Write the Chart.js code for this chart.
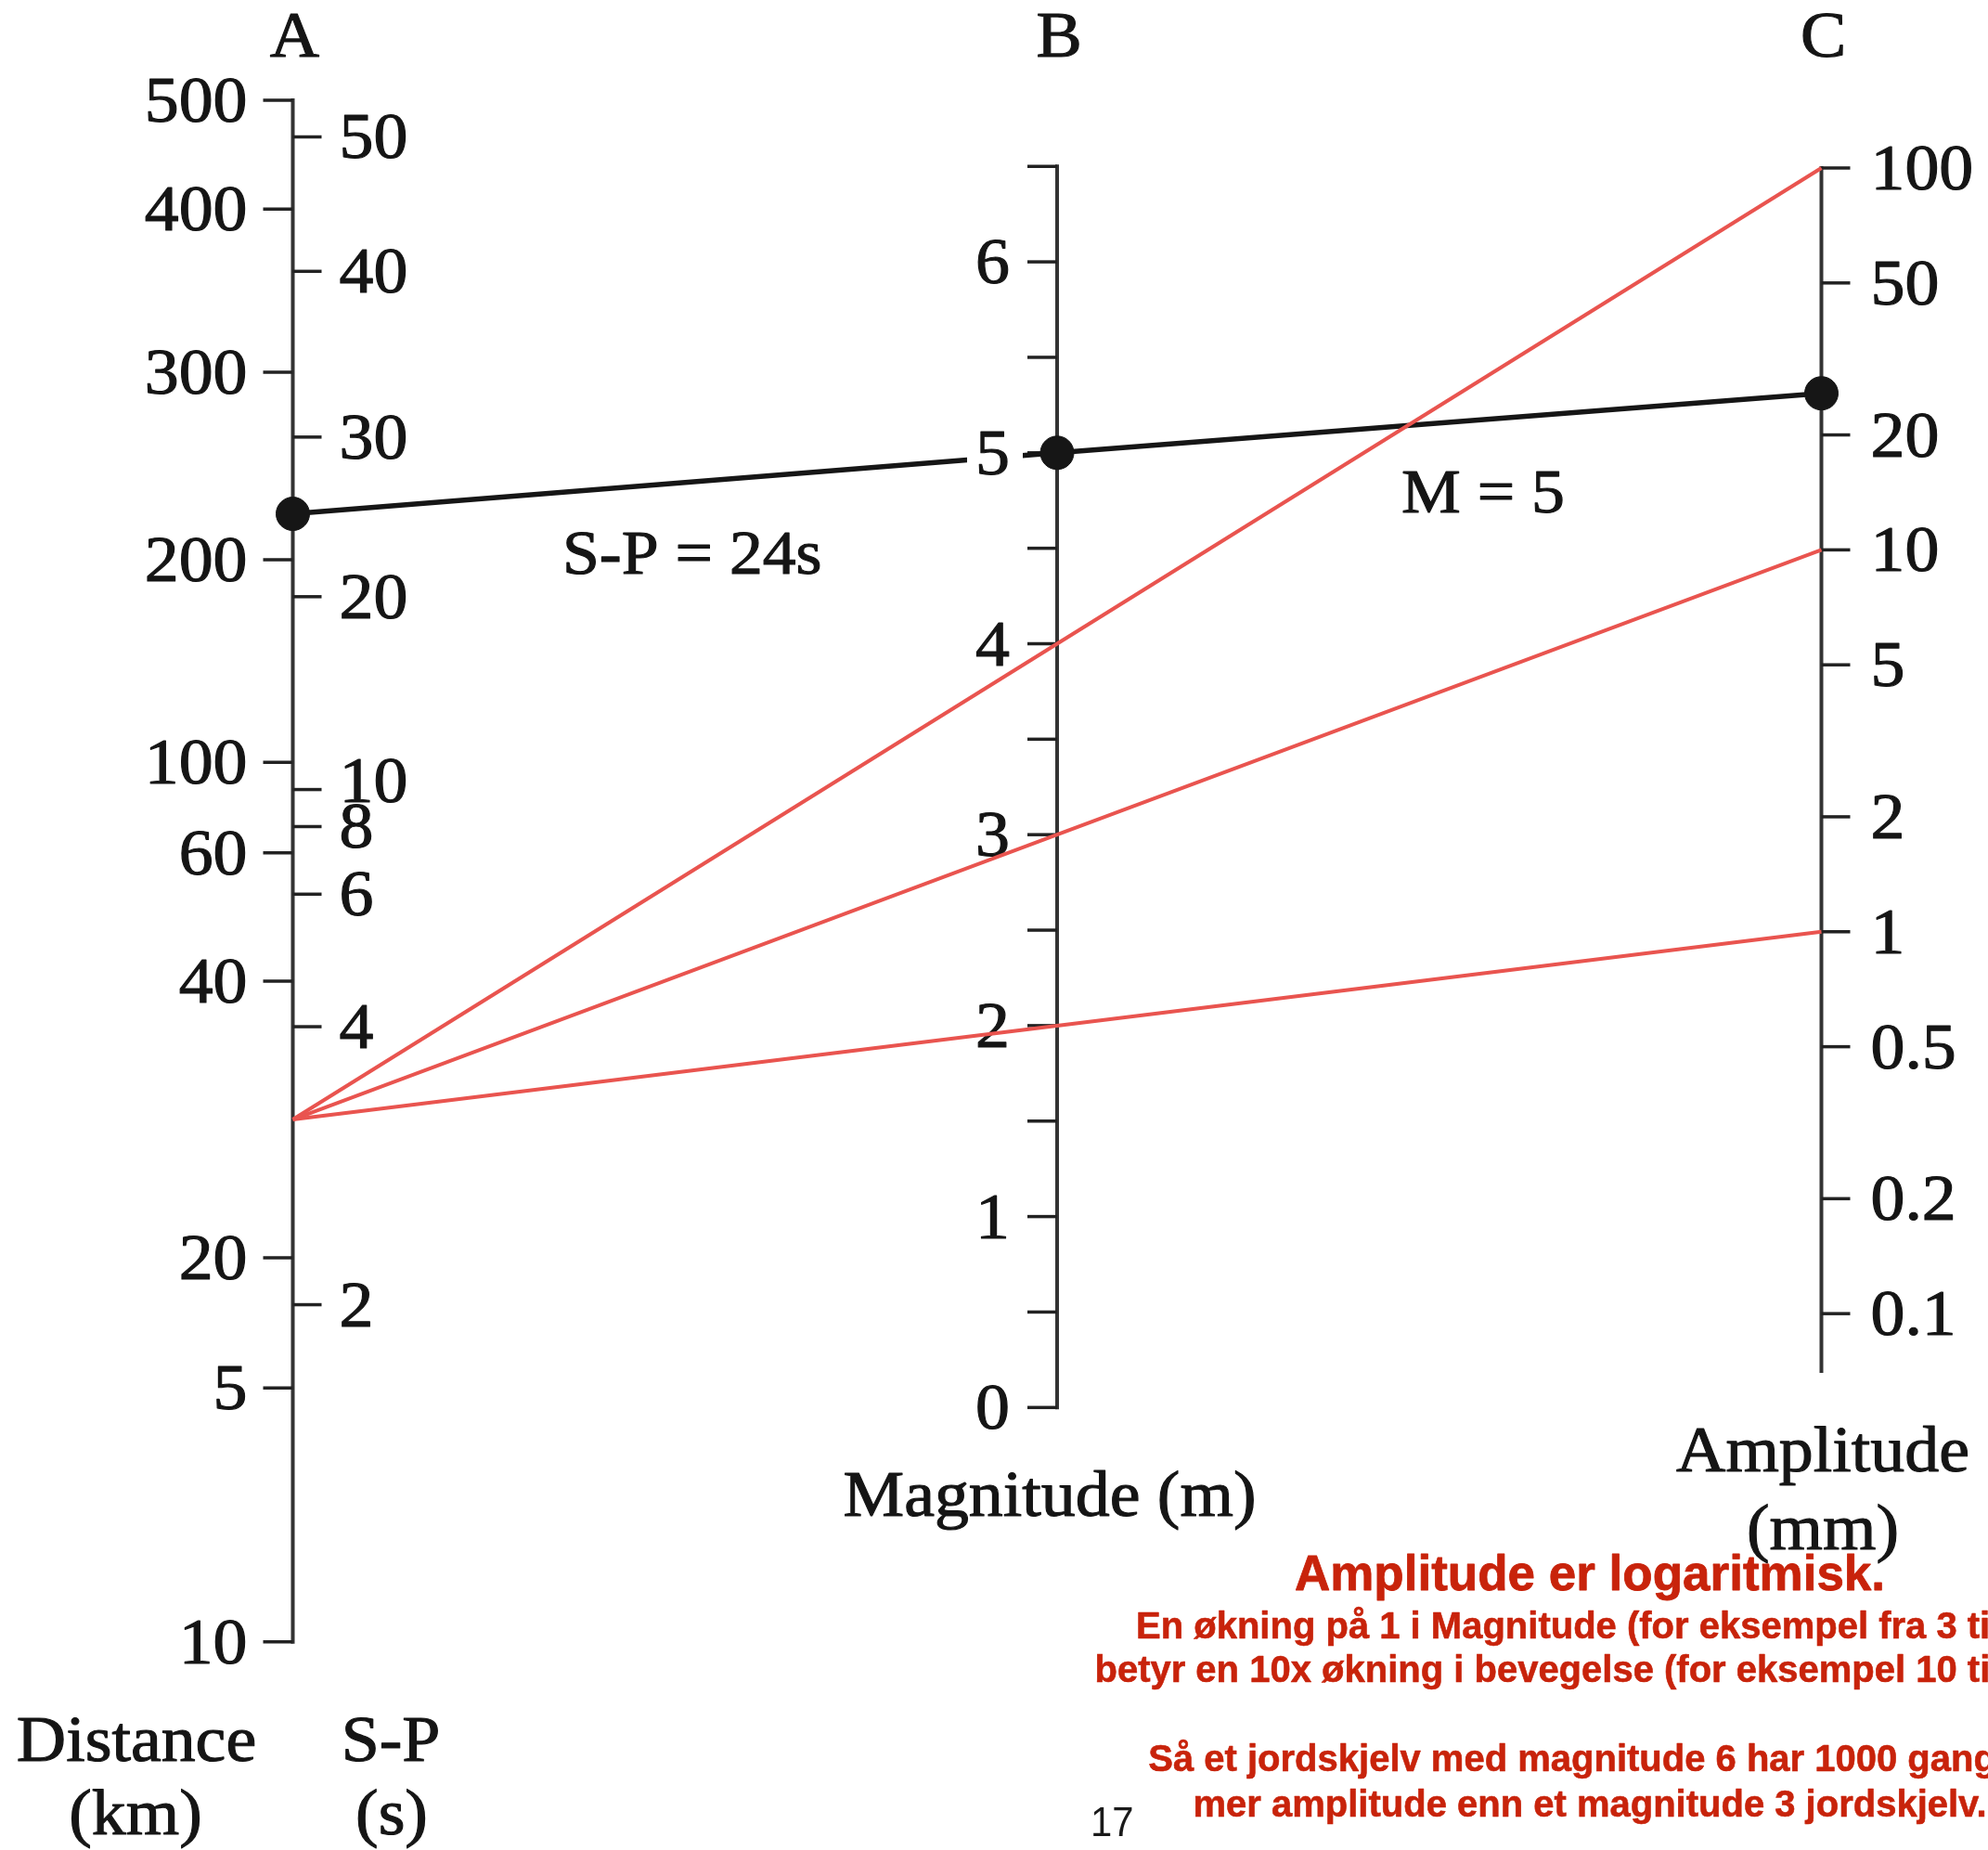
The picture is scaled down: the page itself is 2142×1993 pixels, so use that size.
<!DOCTYPE html>
<html>
<head>
<meta charset="utf-8">
<script src="https://cdn.jsdelivr.net/npm/chart.js@4.4.1/dist/chart.umd.min.js"></script>
<style>
  html, body { margin: 0; padding: 0; background: #ffffff; }
  #wrap { position: relative; width: 2142px; height: 1993px; }
</style>
</head>
<body>
<div id="wrap"><canvas id="c"></canvas></div>
<script>
// ---------- DATA ----------
// Axis A: distance (km) and S-P time (s). Level = distance correction on the A scale (M - log10 amplitude)
const distanceTicks  = [500, 400, 300, 200, 100, 60, 40, 20, 5, 10];
const distanceLevels = [4.669, 4.384, 3.957, 3.466, 2.935, 2.698, 2.362, 1.638, 1.297, 0.632];
const spTicks  = [50, 40, 30, 20, 10, 8, 6, 4, 2];
const spLevels = [4.573, 4.221, 3.787, 3.369, 2.864, 2.767, 2.590, 2.243, 1.515];

// Axis B: magnitude
const magnitudeTicks = [0, 1, 2, 3, 4, 5, 6];
const magnitudeMinorTicks = [0.5, 1.5, 2.5, 3.5, 4.5, 5.5, 6.5];

// Axis C: amplitude (mm), logarithmic
const amplitudeTicks = [100, 50, 20, 10, 5, 2, 1, 0.5, 0.2, 0.1];
const amplitudeAxisEnd = 0.07;

// Worked example (black line): S-P = 24 s -> M = 5
const exampleLevelA = 3.586;
const exampleMagnitude = 5;
const exampleAmplitude = 25.7;

// Red lines: same distance, amplitudes 100, 10 and 1 mm -> M = 4, 3, 2
const redLevelA = 2.0;
const redAmplitudes = [100, 10, 1];
const redMagnitudes = [4, 3, 2];

// Texts
const axisLetters = ['A', 'B', 'C'];
const noteLines = [
  'En økning på 1 i Magnitude (for eksempel fra 3 til 4)',
  'betyr en 10x økning i bevegelse (for eksempel 10 til 100)',
  '',
  'Så et jordskjelv med magnitude 6 har 1000 ganger',
  'mer amplitude enn et magnitude 3 jordskjelv.'
];

// ---------- scale calibration ----------
const M_MIN = 0, M_MAX = 6.5;
const AMP_MIN = 0.05678;
const AMP_MAX = AMP_MIN * Math.pow(10, (M_MAX - M_MIN) / 2);
const A_MIN = M_MIN - Math.log10(AMP_MIN);
const A_MAX = M_MAX - Math.log10(AMP_MAX);

// ---------- styles ----------
const SERIF = '"Liberation Serif", "Times New Roman", serif';
const SANS = '"Liberation Sans", Arial, Helvetica, sans-serif';
const SERIF_SIZE = 69;
const SERIF_SX = 1.07;
const DIGIT_HALF = 23;
const AXIS_COLOR = '#333333';
const TICK_COLOR = '#222222';
const INK = '#151515';
const RED_LINE = '#e9544f';
const RED_TEXT = '#c8230b';

function seg(ctx, x1, y1, x2, y2, w, color) {
  ctx.save();
  ctx.strokeStyle = color;
  ctx.lineWidth = w;
  ctx.lineCap = 'butt';
  ctx.beginPath();
  ctx.moveTo(x1, y1);
  ctx.lineTo(x2, y2);
  ctx.stroke();
  ctx.restore();
}
function txt(ctx, s, x, y, align, size, opts) {
  opts = opts || {};
  ctx.save();
  ctx.font = (opts.weight ? opts.weight + ' ' : '') + size + 'px ' + (opts.family || SERIF);
  ctx.fillStyle = opts.color || INK;
  ctx.strokeStyle = opts.color || INK;
  ctx.textBaseline = 'alphabetic';
  ctx.textAlign = align;
  ctx.translate(x, y);
  ctx.scale(opts.sx === undefined ? SERIF_SX : opts.sx, 1);
  ctx.fillText(s, 0, 0);
  const bold = opts.stroke === undefined ? 1.1 : opts.stroke;
  if (bold > 0) {
    ctx.lineWidth = bold;
    ctx.lineJoin = 'round';
    ctx.strokeText(s, 0, 0);
  }
  ctx.restore();
}

const spNudge = { 10: -10 };

const nomogram = {
  id: 'nomogram',
  beforeDatasetsDraw(chart) {
    const ctx = chart.ctx;
    const { x, yA, yB, yC } = chart.scales;
    const xA = x.getPixelForValue(0), xB = x.getPixelForValue(1), xC = x.getPixelForValue(2);

    // ---- Axis A ----
    const aTop = yA.getPixelForValue(Math.max(...distanceLevels));
    const aBot = yA.getPixelForValue(Math.min(...distanceLevels));
    seg(ctx, xA, aTop - 2, xA, aBot + 2, 4, AXIS_COLOR);
    distanceTicks.forEach((t, i) => {
      const y = yA.getPixelForValue(distanceLevels[i]);
      seg(ctx, xA - 32, y, xA, y, 3.5, TICK_COLOR);
      txt(ctx, String(t), xA - 49, y + DIGIT_HALF, 'right', SERIF_SIZE);
    });
    spTicks.forEach((t, i) => {
      const y = yA.getPixelForValue(spLevels[i]);
      seg(ctx, xA, y, xA + 31, y, 3.5, TICK_COLOR);
      txt(ctx, String(t), xA + 50, y + DIGIT_HALF + (spNudge[t] || 0), 'left', SERIF_SIZE);
    });

    // ---- Axis B ----
    const bTop = yB.getPixelForValue(Math.max(...magnitudeMinorTicks));
    const bBot = yB.getPixelForValue(Math.min(...magnitudeTicks));
    seg(ctx, xB, bTop - 2, xB, bBot + 2, 4, AXIS_COLOR);
    magnitudeMinorTicks.forEach(t => {
      const y = yB.getPixelForValue(t);
      seg(ctx, xB - 32, y, xB, y, 3.5, TICK_COLOR);
    });
    magnitudeTicks.forEach(t => {
      const y = yB.getPixelForValue(t);
      seg(ctx, xB - 32, y, xB, y, 3.5, TICK_COLOR);
      txt(ctx, String(t), xB - 51, y + DIGIT_HALF, 'right', SERIF_SIZE);
    });

    // ---- Axis C ----
    const cTop = yC.getPixelForValue(Math.max(...amplitudeTicks));
    const cBot = yC.getPixelForValue(amplitudeAxisEnd);
    seg(ctx, xC, cTop - 2, xC, cBot, 4, AXIS_COLOR);
    amplitudeTicks.forEach(t => {
      const y = yC.getPixelForValue(t);
      seg(ctx, xC, y, xC + 31, y, 3.5, TICK_COLOR);
      txt(ctx, String(t), xC + 53, y + DIGIT_HALF, 'left', SERIF_SIZE);
    });
  },
  afterDatasetsDraw(chart) {
    const ctx = chart.ctx;
    const { x, yB } = chart.scales;
    const xB = x.getPixelForValue(1);
    // label "5" sits on a white patch over the black line
    const y5 = yB.getPixelForValue(exampleMagnitude);
    ctx.save();
    ctx.fillStyle = '#ffffff';
    ctx.fillRect(xB - 97, y5 - 27, 60, 54);
    ctx.restore();
    txt(ctx, String(exampleMagnitude), xB - 51, y5 + DIGIT_HALF, 'right', SERIF_SIZE);
  },
  afterDraw(chart) {
    const ctx = chart.ctx;
    const { x } = chart.scales;
    axisLetters.forEach((l, i) => {
      txt(ctx, l, x.getPixelForValue(i) + 2, 61, 'center', SERIF_SIZE);
    });
    // axis titles
    txt(ctx, 'Distance', 147, 1897, 'center', SERIF_SIZE);
    txt(ctx, '(km)', 146, 1976, 'center', SERIF_SIZE);
    txt(ctx, 'S-P', 421, 1897, 'center', SERIF_SIZE);
    txt(ctx, '(s)', 422, 1976, 'center', SERIF_SIZE);
    txt(ctx, 'Magnitude (m)', 1131, 1633, 'center', SERIF_SIZE);
    txt(ctx, 'Amplitude', 1964, 1585, 'center', SERIF_SIZE);
    txt(ctx, '(mm)', 1964, 1669, 'center', SERIF_SIZE);
    // annotations
    txt(ctx, 'S-P = 24s', 606, 618, 'left', 67);
    txt(ctx, 'M = ' + exampleMagnitude, 1510, 552, 'left', 67);
    // notes (red)
    txt(ctx, 'Amplitude er logaritmisk.', 1713, 1713, 'center', 53,
        { family: SANS, weight: 'bold', color: RED_TEXT, sx: 1, stroke: 0.8 });
    const noteBaselines = [1765, 1812, 0, 1908, 1957];
    noteLines.forEach((s, i) => {
      if (!s) return;
      txt(ctx, s, 1713, noteBaselines[i], 'center', 40,
          { family: SANS, weight: 'bold', color: RED_TEXT, sx: 1, stroke: 0.6 });
    });
    txt(ctx, '17', 1175, 1978, 'left', 44, { family: SANS, color: '#1a1a1a', sx: 0.95, stroke: 0 });
  }
};

const chart = new Chart(document.getElementById('c'), {
  type: 'line',
  data: { datasets: [] },
  options: {
    responsive: true,
    maintainAspectRatio: false,
    animation: false,
    events: [],
    layout: { padding: { left: 315.5, right: 179.5, top: 179.25, bottom: 476.7 } },
    plugins: { legend: { display: false }, tooltip: { enabled: false } },
    scales: {
      x:  { type: 'linear', min: 0, max: 2, display: false },
      yA: { type: 'linear', min: A_MIN, max: A_MAX, display: false },
      yB: { type: 'linear', min: M_MIN, max: M_MAX, display: false },
      yC: { type: 'logarithmic', min: AMP_MIN, max: AMP_MAX, display: false }
    }
  },
  plugins: [nomogram]
});

// Build the connector lines through the library's scales (A and C readings expressed on the B scale)
(function buildLines() {
  const { yA, yB, yC } = chart.scales;
  const aToB = v => yB.getValueForPixel(yA.getPixelForValue(v));
  const cToB = v => yB.getValueForPixel(yC.getPixelForValue(v));
  const ds = [];
  redAmplitudes.forEach((amp, i) => {
    ds.push({
      label: 'M=' + redMagnitudes[i],
      data: [{ x: 0, y: aToB(redLevelA) }, { x: 1, y: redMagnitudes[i] }, { x: 2, y: cToB(amp) }],
      xAxisID: 'x', yAxisID: 'yB',
      borderColor: RED_LINE, borderWidth: 4, pointRadius: 0, tension: 0,
      clip: false, order: 1
    });
  });
  ds.push({
    label: 'S-P = 24s',
    data: [{ x: 0, y: aToB(exampleLevelA) }, { x: 1, y: exampleMagnitude }, { x: 2, y: cToB(exampleAmplitude) }],
    xAxisID: 'x', yAxisID: 'yB',
    borderColor: '#161616', borderWidth: 5.5,
    pointRadius: 18, pointBackgroundColor: '#161616', pointBorderColor: '#161616', pointBorderWidth: 1,
    tension: 0, clip: false, order: 2
  });
  chart.data.datasets = ds;
  chart.update('none');
})();
</script>
</body>
</html>
